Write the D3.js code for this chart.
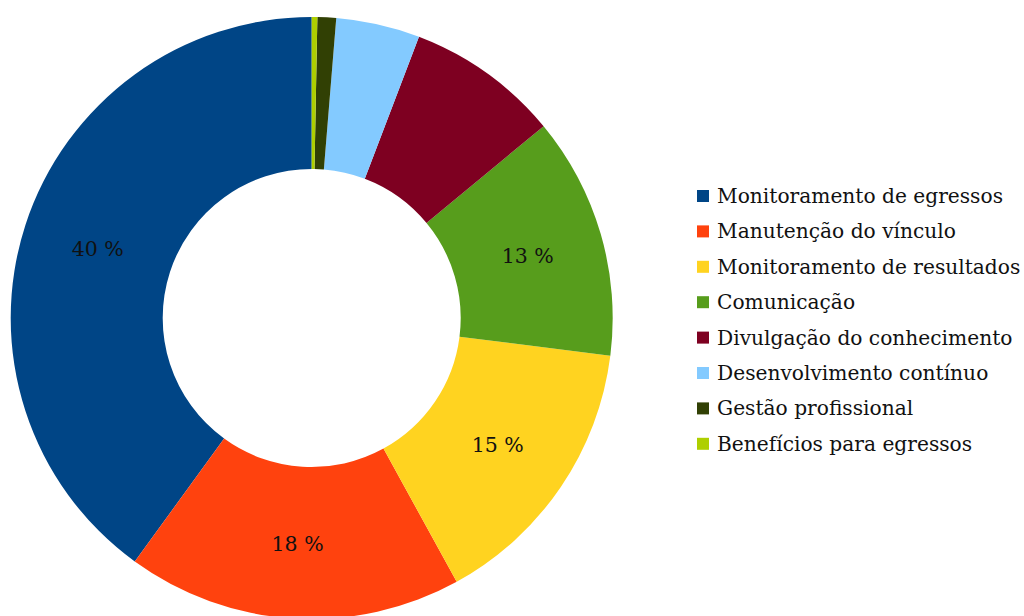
<!DOCTYPE html>
<html>
<head>
<meta charset="utf-8">
<script src="https://cdn.jsdelivr.net/npm/d3@7/dist/d3.min.js"></script>
<style>
  html, body { margin: 0; padding: 0; background: #fff; }
  svg { display: block; }
  text { font-family: "DejaVu Serif", serif; fill: #111; }
</style>
</head>
<body>
<svg id="chart" width="1024" height="616"></svg>
<script>
// Share of responses per category (%)
const categories = [
  "Monitoramento de egressos",
  "Manutenção do vínculo",
  "Monitoramento de resultados",
  "Comunicação",
  "Divulgação do conhecimento",
  "Desenvolvimento contínuo",
  "Gestão profissional",
  "Benefícios para egressos"
];
const values = [40, 18, 15, 13, 8.2, 4.5, 1.0, 0.3];
const labels = ["40 %", "18 %", "15 %", "13 %", "", "", "", ""];
const colors = ["#004586", "#ff420e", "#ffd320", "#579d1c", "#7e0021", "#83caff", "#314004", "#aecf00"];

const svg = d3.select("#chart");
const cx = 311.7, cy = 318, outerR = 301, innerR = 149;

const data = categories.map((c, i) => ({ name: c, value: values[i], label: labels[i], color: colors[i] }));

// Slices run counter-clockwise from 12 o'clock
const pie = d3.pie()
  .sort(null)
  .value(d => d.value)
  .startAngle(0)
  .endAngle(-2 * Math.PI);

const arc = d3.arc().innerRadius(innerR).outerRadius(outerR);

const g = svg.append("g").attr("transform", `translate(${cx},${cy})`);
const arcs = pie(data);

g.selectAll("path.slice")
  .data(arcs)
  .join("path")
  .attr("class", "slice")
  .attr("d", arc)
  .attr("fill", d => d.data.color);

g.selectAll("text.pct")
  .data(arcs.filter(d => d.data.label))
  .join("text")
  .attr("class", "pct")
  .attr("transform", d => `translate(${arc.centroid(d)})`)
  .attr("text-anchor", "middle")
  .attr("dominant-baseline", "central")
  .attr("dy", 1)
  .attr("font-size", 20.5)
  .text(d => d.data.label);

// Legend
const legend = svg.append("g").attr("transform", "translate(697,196)");
const rowH = 35.4;
const rows = legend.selectAll("g.row")
  .data(data)
  .join("g")
  .attr("class", "row")
  .attr("transform", (d, i) => `translate(0,${i * rowH})`);

rows.append("rect")
  .attr("x", 0).attr("y", -6)
  .attr("width", 12).attr("height", 12)
  .attr("fill", d => d.color);

rows.append("text")
  .attr("x", 20)
  .attr("dominant-baseline", "central")
  .attr("font-size", 20.2)
  .text(d => d.name);
</script>
</body>
</html>
